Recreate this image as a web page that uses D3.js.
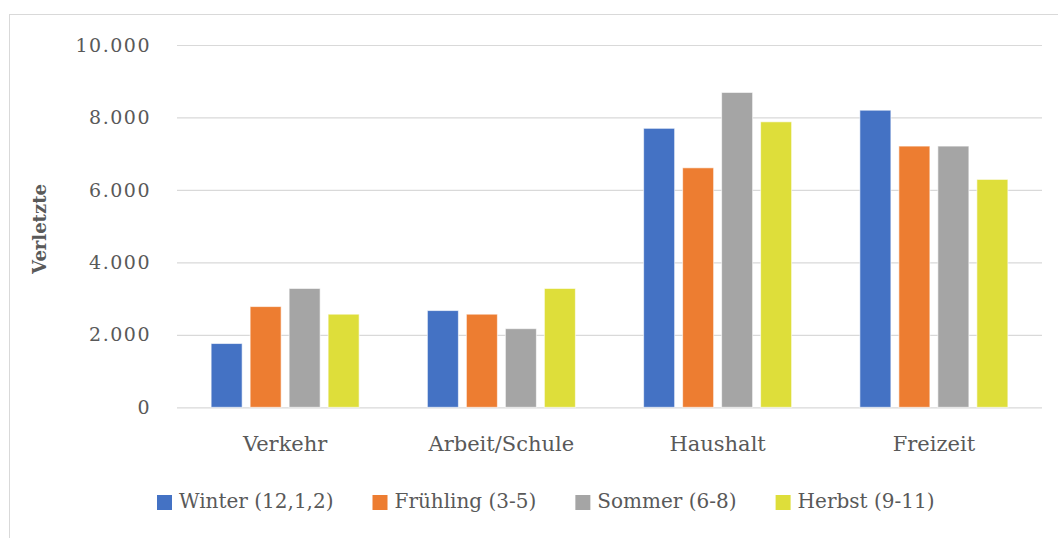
<!DOCTYPE html>
<html>
<head>
<meta charset="utf-8">
<script src="https://cdn.jsdelivr.net/npm/d3@7"></script>
<style>
  body { margin: 0; background: #fff; }
  text { font-family: "DejaVu Serif", serif; fill: #595959; }
</style>
</head>
<body>
<svg id="chart" width="1058" height="538"></svg>
<script>
// categories and seasons
const categories = ['Verkehr', 'Arbeit/Schule', 'Haushalt', 'Freizeit'];
const seasons = ['Winter (12,1,2)', 'Frühling (3-5)', 'Sommer (6-8)', 'Herbst (9-11)'];
const colours = ['#4472C4', '#ED7D31', '#A5A5A5', '#DEDE3A'];

// injured per season, one array per category order
const winter = [1760, 2670, 7700, 8200];
const fruehling = [2780, 2570, 6610, 7210];
const sommer = [3280, 2170, 8690, 7210];
const herbst = [2570, 3280, 7880, 6290];
const yTicks = [0, 2000, 4000, 6000, 8000, 10000];

const series = [winter, fruehling, sommer, herbst];

const svg = d3.select('#chart');

// outer border (only top + left visible in the reference)
svg.append('rect')
    .attr('x', 9.5).attr('y', 14.5)
    .attr('width', 1100).attr('height', 600)
    .attr('fill', 'none')
    .attr('stroke', '#d9d9d9');

const plot = { left: 177, right: 1042, top: 45, bottom: 407.3 };

const y = d3.scaleLinear()
    .domain([0, 10000])
    .range([plot.bottom, plot.top]);

const x0 = d3.scaleBand()
    .domain(categories)
    .range([plot.left, plot.right])
    .padding(0);

const groupW = 148;
const x1 = d3.scaleBand()
    .domain(d3.range(seasons.length))
    .range([-groupW / 2, groupW / 2])
    .paddingInner(0.205)
    .paddingOuter(0);

const fmt = d => d3.format(',')(d).replace(/,/g, '.');

// y axis with gridlines
const yAxis = svg.append('g')
    .attr('transform', 'translate(' + plot.left + ',0)')
    .call(d3.axisLeft(y)
        .tickValues(yTicks)
        .tickSize(-(plot.right - plot.left))
        .tickPadding(26)
        .tickFormat(fmt));
yAxis.select('.domain').remove();
yAxis.selectAll('.tick line').attr('stroke', '#d9d9d9').attr('stroke-width', 1.2);
yAxis.selectAll('.tick text')
    .style('font-size', '19px')
    .style('letter-spacing', '1.5px')
    .attr('fill', '#595959');

// bars
const groups = svg.append('g').selectAll('g')
    .data(categories)
    .join('g')
    .attr('transform', d => 'translate(' + (x0(d) + x0.bandwidth() / 2) + ',0)');

groups.selectAll('rect')
    .data((c, ci) => series.map((s, si) => ({ si: si, v: s[ci] })))
    .join('rect')
    .attr('x', d => x1(d.si))
    .attr('width', x1.bandwidth())
    .attr('y', d => y(d.v))
    .attr('height', d => y(0) - y(d.v))
    .attr('fill', d => colours[d.si])
    .attr('stroke', '#fff')
    .attr('stroke-opacity', 0.6)
    .attr('stroke-width', 1);

// category labels
const xAxis = svg.append('g')
    .attr('transform', 'translate(0,' + plot.bottom + ')')
    .call(d3.axisBottom(x0).tickSize(0).tickPadding(0));
xAxis.select('.domain').remove();
xAxis.selectAll('.tick text')
    .attr('y', 44)
    .attr('dy', 0)
    .style('font-size', '21px')
    .attr('fill', '#595959');

// y title
svg.append('text')
    .attr('transform', 'translate(46,229) rotate(-90)')
    .attr('text-anchor', 'middle')
    .style('font-size', '18px')
    .style('font-weight', 'bold')
    .text('Verletzte');

// legend
let lx = 157;
seasons.forEach((s, i) => {
    svg.append('rect')
        .attr('x', lx).attr('y', 495)
        .attr('width', 15).attr('height', 15)
        .attr('fill', colours[i]);
    const t = svg.append('text')
        .attr('x', lx + 22).attr('y', 508)
        .style('font-size', '20px')
        .text(s);
    lx += 22 + t.node().getComputedTextLength() + 39;
});
</script>
</body>
</html>
